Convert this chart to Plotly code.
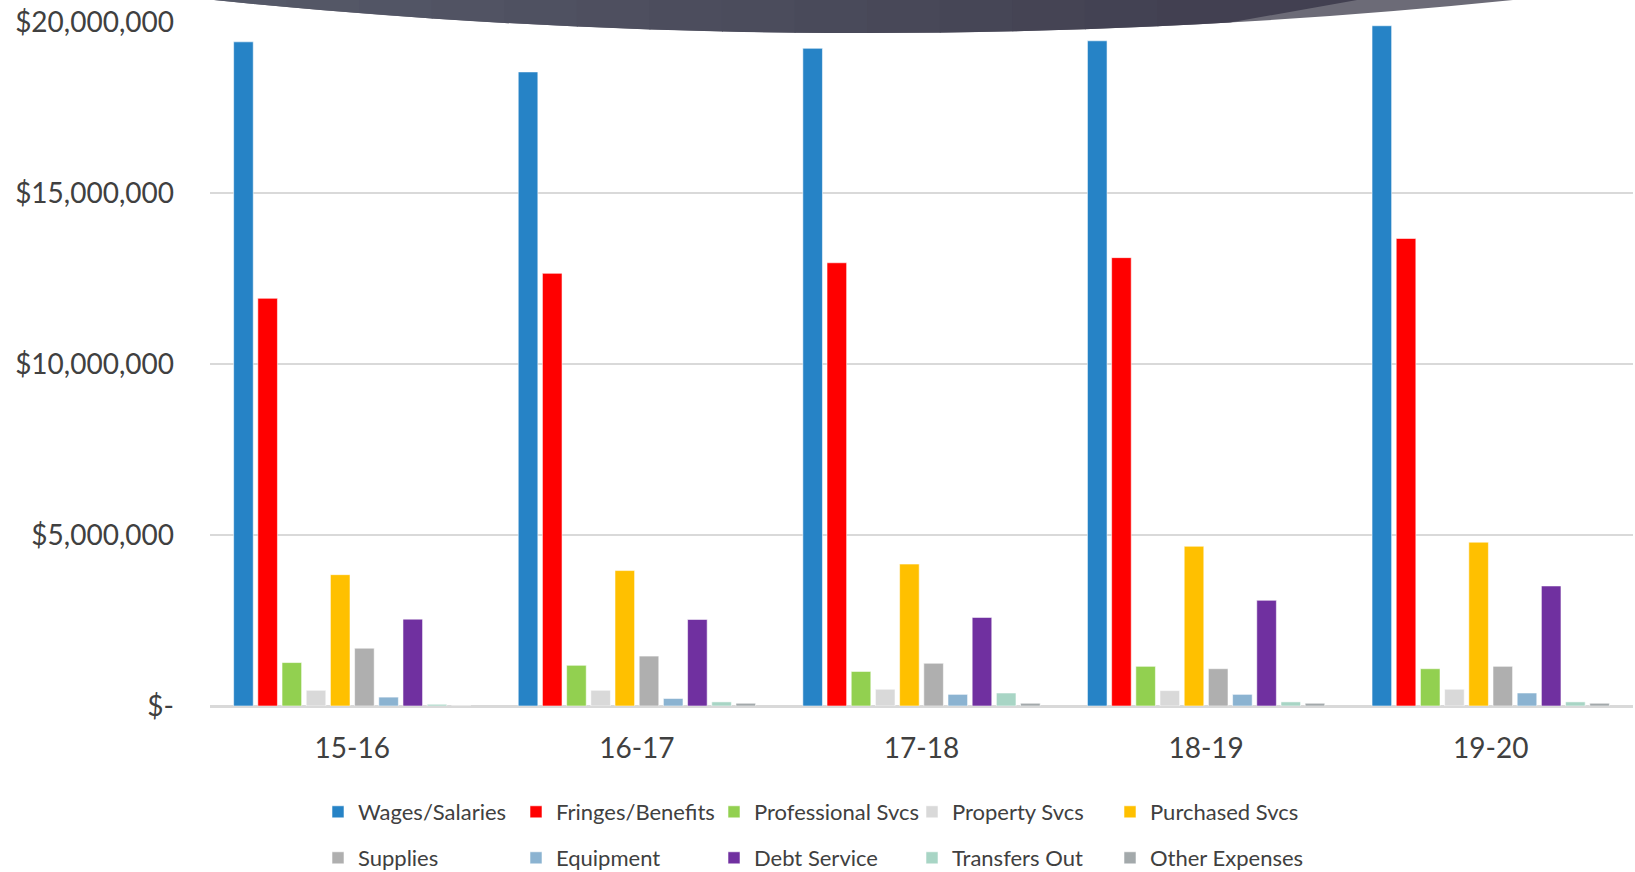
import plotly.graph_objects as go

# Fiscal years and spending by category (dollars)
years = ["15-16", "16-17", "17-18", "18-19", "19-20"]
wages_salaries = [19.42e6, 18.54e6, 19.23e6, 19.45e6, 19.89e6]
fringes_benefits = [11.92e6, 12.65e6, 12.96e6, 13.11e6, 13.67e6]
professional_svcs = [1.27e6, 1.19e6, 1.01e6, 1.16e6, 1.09e6]
property_svcs = [0.46e6, 0.46e6, 0.49e6, 0.45e6, 0.49e6]
purchased_svcs = [3.84e6, 3.96e6, 4.15e6, 4.67e6, 4.79e6]
supplies = [1.69e6, 1.46e6, 1.25e6, 1.09e6, 1.16e6]
equipment = [0.26e6, 0.22e6, 0.34e6, 0.34e6, 0.38e6]
debt_service = [2.54e6, 2.53e6, 2.59e6, 3.09e6, 3.51e6]
transfers_out = [0.05e6, 0.12e6, 0.38e6, 0.12e6, 0.12e6]
other_expenses = [0.0, 0.08e6, 0.08e6, 0.08e6, 0.08e6]

y_tickvals = [0, 5e6, 10e6, 15e6, 20e6]
y_ticktext = ["$-", "$5,000,000", "$10,000,000", "$15,000,000", "$20,000,000"]

series = [
    ("Wages/Salaries", wages_salaries, "#2683c6", "legend"),
    ("Fringes/Benefits", fringes_benefits, "#ff0000", "legend"),
    ("Professional Svcs", professional_svcs, "#92d050", "legend"),
    ("Property Svcs", property_svcs, "#d9d9d9", "legend"),
    ("Purchased Svcs", purchased_svcs, "#ffc000", "legend"),
    ("Supplies", supplies, "#afafaf", "legend2"),
    ("Equipment", equipment, "#8bb3d1", "legend2"),
    ("Debt Service", debt_service, "#7030a0", "legend2"),
    ("Transfers Out", transfers_out, "#a8d5c5", "legend2"),
    ("Other Expenses", other_expenses, "#a3a9ab", "legend2"),
]

W, H = 1635, 872
ML, MR, MT, MB = 210, 2, 22, 166
PW, PH = W - ML - MR, H - MT - MB

FONT = "Lato"
TXT = "#404040"

fig = go.Figure()
for name, vals, color, leg in series:
    fig.add_trace(go.Bar(
        x=years, y=vals, name=name, legend=leg,
        marker=dict(color=color, line=dict(color="rgba(255,255,255,0.55)", width=1)),
    ))


def px_to_paper(px, py):
    return (px - ML) / PW, (H - MB - py) / PH


def qpoint(p0, p1, p2, t):
    return tuple((1 - t) ** 2 * a + 2 * (1 - t) * t * b + t * t * c for a, b, c in zip(p0, p1, p2))


def qsub(p0, p1, p2, ta, tb):
    return tuple((1 - ta) * (1 - tb) * a + ((1 - ta) * tb + ta * (1 - tb)) * b + ta * tb * c
                 for a, b, c in zip(p0, p1, p2))


def fmt(px, py):
    x, y = px_to_paper(px, py)
    return f"{x:.5f},{y:.5f}"


def mix(c1, c2, f):
    a = [int(c1[i:i + 2], 16) for i in (1, 3, 5)]
    b = [int(c2[i:i + 2], 16) for i in (1, 3, 5)]
    return "#" + "".join(f"{round(u + (v - u) * f):02x}" for u, v in zip(a, b))


# Decorative header banner: curved band across the top of the slide
P0, P1, P2 = (214.0, 0.0), (863.5, 66.0), (1513.0, 0.0)
TOP = -6.0
shapes = []
shapes.append(dict(
    type="path", xref="paper", yref="paper", layer="below",
    path=f"M {fmt(P0[0], TOP)} L {fmt(*P0)} Q {fmt(*P1)} {fmt(*P2)} L {fmt(P2[0], TOP)} Z",
    fillcolor="#6c6b77", line=dict(width=0),
))
t_end = (1230 - P0[0]) / (P2[0] - P0[0])
n = 14
for i in range(n):
    ta, tb = t_end * i / n, t_end * (i + 1) / n
    a = qpoint(P0, P1, P2, ta)
    b = qpoint(P0, P1, P2, tb)
    c = qsub(P0, P1, P2, ta, tb)
    col = mix("#565a69", "#413f50", (i + 0.5) / n)
    if i < n - 1:
        path = (f"M {fmt(a[0], TOP)} L {fmt(*a)} Q {fmt(*c)} {fmt(*b)} "
                f"L {fmt(b[0] + 1, b[1])} L {fmt(b[0] + 1, TOP)} Z")
    else:
        path = (f"M {fmt(a[0], TOP)} L {fmt(*a)} Q {fmt(*c)} {fmt(*b)} "
                f"L {fmt(1391, TOP)} Z")
    shapes.append(dict(type="path", xref="paper", yref="paper", layer="below",
                       path=path, fillcolor=col, line=dict(width=0)))

legend_common = dict(
    orientation="h", xref="container", yref="container",
    xanchor="left", yanchor="middle",
    font=dict(family=FONT, size=22, color=TXT),
    entrywidth=153, entrywidthmode="pixels",
    bgcolor="rgba(0,0,0,0)", borderwidth=0,
    traceorder="normal",
)

fig.update_layout(
    width=W, height=H,
    margin=dict(l=ML, r=MR, t=MT, b=MB, autoexpand=False),
    paper_bgcolor="white", plot_bgcolor="white",
    barmode="group", bargap=0.15, bargroupgap=0.19,
    font=dict(family=FONT, color=TXT),
    shapes=shapes,
    legend=dict(x=318 / W, y=1 - 812 / H, **legend_common),
    legend2=dict(x=318 / W, y=1 - 858 / H, **legend_common),
    xaxis=dict(
        type="category", showgrid=False, showline=False, zeroline=False,
        ticks="", tickfont=dict(family=FONT, size=28, color=TXT),
        ticklabelstandoff=23,
    ),
    yaxis=dict(
        range=[0, 20e6], tickvals=y_tickvals, ticktext=y_ticktext,
        showgrid=True, gridcolor="#d9d9d9", gridwidth=2,
        zeroline=True, zerolinecolor="#d9d9d9", zerolinewidth=3,
        showline=False, ticks="",
        tickfont=dict(family=FONT, size=28, color=TXT),
        ticklabelstandoff=35,
    ),
)

fig.write_html("out.html")
